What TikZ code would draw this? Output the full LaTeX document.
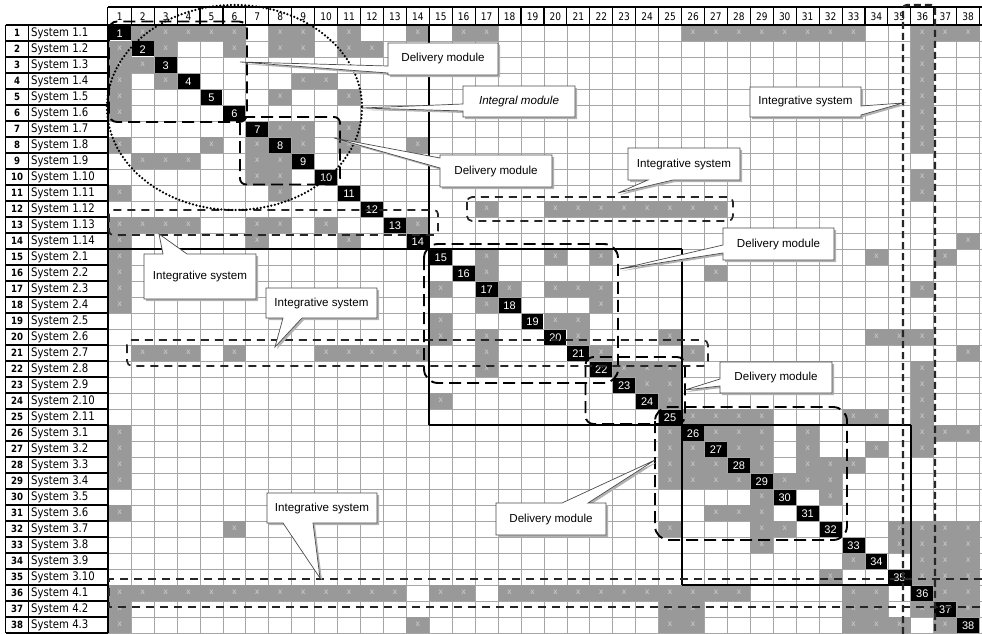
\documentclass[tikz,border=0pt]{standalone}
\usepackage{fontspec}
\setmainfont{Liberation Sans}
\newfontfamily\tah[FakeStretch=0.86]{DejaVu Sans}
\usetikzlibrary{shadows}
\definecolor{cellgray}{HTML}{999999}
\definecolor{xgray}{HTML}{D0D0D0}
\definecolor{gridgray}{HTML}{A6A6A6}
\begin{document}
\begin{tikzpicture}[x=1pt,y=-1pt,
  gridline/.style={draw=gridgray, line width=0.8pt},
  xmark/.style={text=xgray, font=\fontsize{8.5}{9}\selectfont, inner sep=0pt},
  diagnum/.style={text=white, font=\fontsize{11}{12}\selectfont, inner sep=0pt},
  hdrnum/.style={font=\tah\fontsize{10.5}{11}\selectfont, inner sep=0pt},
  rownum/.style={font=\tah\bfseries\fontsize{10}{11}\selectfont, inner sep=0pt},
  rowname/.style={font=\tah\fontsize{11.8}{12}\selectfont, inner sep=0pt, anchor=west},
  blockline/.style={draw=black, line width=1.8pt},
  dmbox/.style={draw=black, line width=1.9pt, dash pattern=on 12pt off 6pt},
  isbox/.style={draw=black!85, line width=1.7pt, dash pattern=on 8pt off 6pt},
  iscol/.style={draw=black!85, line width=2.4pt, dash pattern=on 7pt off 4pt},
  dotcirc/.style={draw=black, line width=2.5pt, line cap=round, dash pattern=on 0pt off 3.6pt},
  callout/.style={fill=white, draw=black!70, line width=0.7pt,
    drop shadow={shadow xshift=2pt, shadow yshift=-2pt, fill=black!30, opacity=1}},
  ctext/.style={font=\fontsize{11.6}{13}\selectfont, inner sep=0pt}
]
\def\XO{108.3}\def\CW{22.93}\def\YO{25}\def\RH{16}
\useasboundingbox (0,0) rectangle (982,634);
\fill[white] (0,0) rectangle (982,634);

% grid
\foreach \c in {0,...,38} {
  \pgfmathsetmacro\xx{\XO+\c*\CW}
  \draw[gridline] (\xx,25) -- (\xx,634);
}
\foreach \r in {0,...,38} {
  \pgfmathsetmacro\yy{\YO+\r*\RH}
  \draw[gridline] (\XO,\yy) -- (982,\yy);
}

% gray cells
\foreach \r/\cl in {
1/{2,3,4,5,6,8,9,11,14,16,17,26,27,28,29,30,31,32,33,36,37,38},
2/{1,3,6,8,9,11,12,36},
3/{1,2,36},
4/{1,3,9,10,36},
5/{1,8,11,36},
6/{1,36},
7/{8,9,11,36},
8/{1,5,7,9,11,14,36},
9/{2,3,4,7,8},
10/{7,8,36},
11/{1,8,36},
12/{17,20,21,22,23,24,25,26,27},
13/{1,2,3,4,7,8,10,14},
14/{1,7,11,38},
15/{1,17,20,22,34,37},
16/{1,17,27},
17/{1,15,18,20,21,22,36},
18/{1,17,22},
19/{15,20,21},
20/{15,17,21,25,34,35,36},
21/{2,3,4,6,10,11,12,13,14,17,22,26,38},
22/{17,23,24,25,36},
23/{24,25,36},
24/{15,25,36},
25/{26,27,28,29,33,34,36},
26/{1,25,27,28,29,31,36,37,38},
27/{1,25,26,28,29,31,34,36},
28/{1,25,26,27,29,31,32,33},
29/{1,25,26,27,28,30,31,32},
30/{29,32},
31/{1,27,28,29},
32/{6,25,29,30,35,36,37,38},
33/{29,35,36,37,38},
34/{33,36,37,38},
35/{32,36,37,38},
36/{1,2,3,4,5,6,7,8,9,10,11,12,13,15,16,18,19,20,21,22,23,24,25,26,27,28,33,34,37,38},
37/{1,25,26,33,34,36,38},
38/{1,14,25,26,33,34,35,37}} {
  \foreach \c in \cl {
    \pgfmathsetmacro\xa{\XO+(\c-1)*\CW}
    \pgfmathsetmacro\ya{\YO+(\r-1)*\RH}
    \fill[cellgray] (\xa,\ya) rectangle ++(\CW,\RH);
    \node[xmark] (x\r-\c) at (\xa+\CW/2,\ya+\RH/2-0.5) {x};
  }
}

% diagonal
\foreach \i in {1,...,38} {
  \pgfmathsetmacro\xa{\XO+(\i-1)*\CW}
  \pgfmathsetmacro\ya{\YO+(\i-1)*\RH}
  \fill[black] (\xa+0.5,\ya+0.5) rectangle ++(\CW-1,\RH-1);
  \node[diagnum] (d\i) at (\xa+\CW/2,\ya+\RH/2+0.5) {\i};
}

% block lines
\draw[blockline] (429.3,25) -- (429.3,425);
\draw[blockline] (\XO,249) -- (681.6,249);
\draw[blockline] (681.6,249) -- (681.6,585);
\draw[blockline] (429.3,425) -- (910.9,425);
\draw[blockline] (910.9,425) -- (910.9,585) -- (681.6,585);

% left table
\fill[white] (5.5,25) rectangle (\XO,634);
\foreach \r in {0,...,38} {
  \pgfmathsetmacro\yy{\YO+\r*\RH}
  \draw[black, line width=1.3pt] (5.5,\yy) -- (\XO,\yy);
}
\draw[black, line width=1.6pt] (5.5,25) -- (5.5,633);
\draw[black, line width=1.4pt] (28.3,25) -- (28.3,633);
\draw[black, line width=1.8pt] (\XO,7) -- (\XO,633);
\foreach \i/\nm in {1/1.1,2/1.2,3/1.3,4/1.4,5/1.5,6/1.6,7/1.7,8/1.8,9/1.9,10/1.10,11/1.11,12/1.12,13/1.13,14/1.14,15/2.1,16/2.2,17/2.3,18/2.4,19/2.5,20/2.6,21/2.7,22/2.8,23/2.9,24/2.10,25/2.11,26/3.1,27/3.2,28/3.3,29/3.4,30/3.5,31/3.6,32/3.7,33/3.8,34/3.9,35/3.10,36/4.1,37/4.2,38/4.3} {
  \pgfmathsetmacro\yc{\YO+(\i-0.5)*\RH}
  \node[rownum] (rn\i) at (17,\yc) {\i};
  \node[rowname] (rl\i) at (31,\yc) {System \nm};
}

% header
\fill[white] (\XO,7) rectangle (982,25);
\foreach \c in {1,...,38} {
  \pgfmathsetmacro\xx{\XO+\c*\CW}
  \draw[black, line width=1.1pt] (\xx,7) -- (\xx,25);
  \pgfmathsetmacro\xc{\XO+(\c-0.5)*\CW}
  \node[hdrnum] (h\c) at (\xc,16.5) {\c};
}
\draw[black, line width=1.6pt] (\XO,7) -- (982,7);
\draw[black, line width=1.8pt] (\XO,25) -- (982,25);

% delivery modules
\draw[dmbox, rounded corners=8pt] (109,21.5) rectangle (247,122);
\draw[dmbox, rounded corners=6pt] (240,117) rectangle (340,184.5);
\draw[dmbox, rounded corners=14pt] (424,244) rectangle (618,383);
\draw[dmbox, rounded corners=8pt] (585.5,357) rectangle (685,424);
\draw[dmbox, rounded corners=14pt] (655,407) rectangle (847,540);

% integrative systems
\draw[isbox, rounded corners=4pt] (109,210) rectangle (438,235);
\draw[isbox, rounded corners=5pt] (467,197) rectangle (733,221);
\draw[isbox, rounded corners=5pt] (127,340) rectangle (708,366);
\draw[isbox] (982,579) -- (109,579) -- (109,607) -- (982,607);
\draw[iscol, rounded corners=4pt] (903,634) -- (903,5) -- (935,5) -- (935,634);

% integral module
\draw[dotcirc] (234.5,107.5) ellipse [x radius=127.5, y radius=102.5];

% callouts
\path[callout] (388,43) -- (498,43) -- (498,75) -- (388,75) -- (388,73) -- (240,62) -- (388,66) -- cycle;
\node[ctext] (c1) at (443,59) {Delivery module};
\path[callout] (463,86) -- (575,86) -- (575,117) -- (463,117) -- (463,111) -- (362,108) -- (463,104) -- cycle;
\node[ctext, font=\fontsize{11.6}{13}\selectfont\itshape] (c2) at (519,101.5) {Integral module};
\path[callout] (440,155) -- (552,155) -- (552,187) -- (440,187) -- (440,168) -- (334,138) -- (440,158) -- cycle;
\node[ctext] (c3) at (496,171) {Delivery module};
\path[callout] (628,148) -- (740,148) -- (740,180) -- (673,180) -- (618,193) -- (648,180) -- (628,180) -- cycle;
\node[ctext] (c4) at (684,164) {Integrative system};
\path[callout] (750,87) -- (861,87) -- (861,106) -- (903,103) -- (861,115) -- (861,117) -- (750,117) -- cycle;
\node[ctext] (c5) at (805.5,102) {Integrative system};
\path[callout] (723,228) -- (834,228) -- (834,260) -- (723,260) -- (723,253) -- (620,269) -- (723,245) -- cycle;
\node[ctext] (c6) at (778.5,244) {Delivery module};
\path[callout] (720,362) -- (832,362) -- (832,393) -- (720,393) -- (720,386) -- (685,390) -- (720,379) -- cycle;
\node[ctext] (c7) at (776,377.5) {Delivery module};
\path[callout] (144,254) -- (163,254) -- (159,234) -- (187,254) -- (256,254) -- (256,299) -- (144,299) -- cycle;
\node[ctext] (c8) at (200,276.5) {Integrative system};
\path[callout] (266,288) -- (377,288) -- (377,318) -- (302,318) -- (275,347) -- (283,318) -- (266,318) -- cycle;
\node[ctext] (c9) at (321.5,303) {Integrative system};
\path[callout] (267,493) -- (377,493) -- (377,523) -- (313,523) -- (320,578) -- (283,523) -- (267,523) -- cycle;
\node[ctext] (c10) at (322,508) {Integrative system};
\path[callout] (496,503) -- (562,503) -- (655,460) -- (588,503) -- (606,503) -- (606,535) -- (496,535) -- cycle;
\node[ctext] (c11) at (551,519) {Delivery module};
\end{tikzpicture}
\end{document}
